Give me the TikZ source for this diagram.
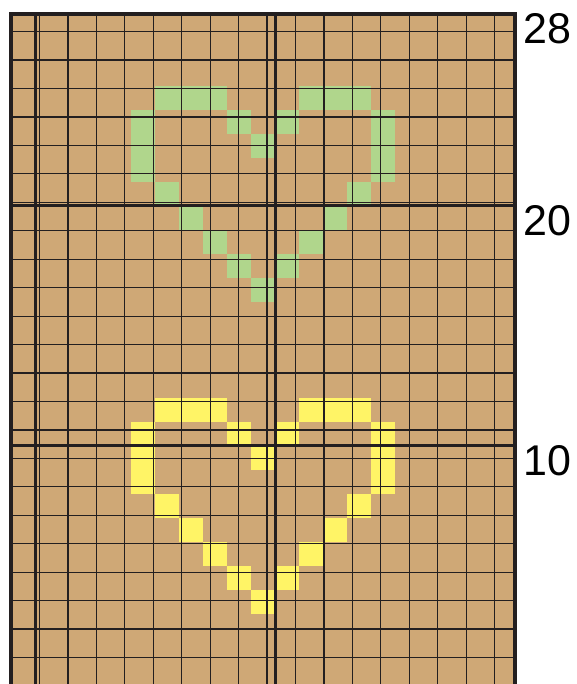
\documentclass[tikz,border=0pt]{standalone}
\usepackage{fontspec}
\setmainfont{Liberation Sans}
\definecolor{cardboard}{RGB}{207,168,118}
\definecolor{leafgreen}{RGB}{176,214,140}
\definecolor{lemon}{RGB}{255,244,102}
\definecolor{gridline}{RGB}{35,31,32}
\begin{document}
\begin{tikzpicture}[x=24pt, y=24pt,
    thin grid/.style={draw=gridline, line width=1.2pt},
    thick grid/.style={draw=gridline, line width=3pt},
    row label/.style={anchor=base west, inner sep=0pt, font=\fontsize{43}{43}\selectfont}]
  \useasboundingbox (-11pt,2pt) rectangle (565pt,686pt);
  \fill[cardboard] (0,0) rectangle (21,28);
  % the two hearts, same shape, shifted by 13 rows
  \foreach \base/\col in {16/leafgreen, 3/lemon}
    \foreach \x/\y in {6/8,7/8,8/8,12/8,13/8,14/8,
                       5/7,9/7,11/7,15/7,
                       5/6,10/6,15/6,
                       5/5,15/5,
                       6/4,14/4,
                       7/3,13/3,
                       8/2,12/2,
                       9/1,11/1,
                       10/0}
      \fill[\col] (\x,\base+\y) rectangle ++(1,1);
  \draw[thin grid] (0,0) grid (21,28);
  \foreach \x in {1,11}
    \draw[thick grid] (\x,0) -- (\x,28);
  \foreach \y in {0,10,20}
    \draw[thick grid] (0,\y) -- (21,\y);
  \draw[thick grid, line width=3.4pt] (0,0) rectangle (21,28);
  % row numbers
  \foreach \y in {28,20,10}
    \node[row label] (label\y) at ([xshift=8pt, yshift=-29.5pt]21,\y) {\y};
\end{tikzpicture}
\end{document}
